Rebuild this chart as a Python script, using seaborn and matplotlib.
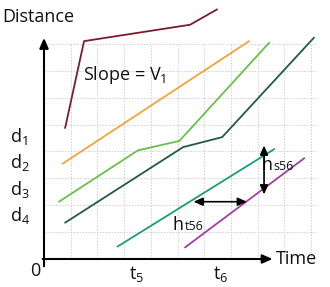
import matplotlib
matplotlib.use("Agg")
import matplotlib.pyplot as plt
import seaborn as sns
import pandas as pd

sns.set_theme(style="white")
plt.rcParams['font.family'] = ['Open Sans', 'DejaVu Sans']
plt.rcParams['mathtext.fontset'] = 'custom'
plt.rcParams['mathtext.rm'] = 'Open Sans'
plt.rcParams['mathtext.it'] = 'Open Sans'

# Series data (grid units)
maroon_x = [0.79, 1.50, 5.47, 6.48]
maroon_y = [4.87, 8.10, 8.71, 9.28]
orange_x = [0.69, 7.68]
orange_y = [3.54, 8.10]
lgreen_x = [0.56, 3.52, 5.07, 8.43]
lgreen_y = [2.13, 4.04, 4.39, 8.04]
dgreen_x = [0.79, 5.21, 6.67, 10.11]
dgreen_y = [1.35, 4.16, 4.53, 8.23]
teal_x = [2.75, 8.63]
teal_y = [0.46, 4.09]
purple_x = [5.28, 9.75]
purple_y = [0.43, 3.75]

series = {
    "maroon": (maroon_x, maroon_y, "#7b1c2c"),
    "orange": (orange_x, orange_y, "#f2a33a"),
    "lgreen": (lgreen_x, lgreen_y, "#6abf4b"),
    "dgreen": (dgreen_x, dgreen_y, "#235b3c"),
    "teal": (teal_x, teal_y, "#1b9e77"),
    "purple": (purple_x, purple_y, "#a23ea6"),
}

d_labels = ["d$_1$", "d$_2$", "d$_3$", "d$_4$"]
d_label_y = [4.55, 3.6, 2.6, 1.6]
t_labels = ["t$_5$", "t$_6$"]
t_label_x = [3.46, 6.6]

fig = plt.figure(figsize=(3.3, 2.87), dpi=100)
ax = fig.add_axes([0, 0, 1, 1])

# grid
for gx in range(1, 11):
    ax.plot([gx, gx], [0, 8.03], color="#d0d0d0", lw=0.7, ls=(0, (1.5, 1.5)), zorder=0)
for gy in range(1, 9):
    ax.plot([0, 10.2], [gy, gy], color="#d0d0d0", lw=0.7, ls=(0, (1.5, 1.5)), zorder=0)

for name, (xs, ys, col) in series.items():
    df = pd.DataFrame({"x": xs, "y": ys})
    sns.lineplot(data=df, x="x", y="y", sort=False, estimator=None, color=col,
                 lw=1.3, ax=ax, zorder=3)

ax.set_xlim(-1.648, 10.71)
ax.set_ylim(-1.041, 9.63)
ax.axis("off")

# axes arrows
ax.annotate("", xy=(0, 8.22), xytext=(0, -0.27),
            arrowprops=dict(arrowstyle="-|>,head_length=0.5,head_width=0.22", color="black", lw=1.5,
                            shrinkA=0, shrinkB=0), zorder=4)
ax.annotate("", xy=(8.56, 0), xytext=(-0.05, 0),
            arrowprops=dict(arrowstyle="-|>,head_length=0.5,head_width=0.22", color="black", lw=1.5,
                            shrinkA=0, shrinkB=0), zorder=4)

# double arrows
ax.annotate("", xy=(8.24, 4.22), xytext=(8.24, 2.4),
            arrowprops=dict(arrowstyle="<|-|>,head_length=0.45,head_width=0.2", color="black", lw=1.2,
                            shrinkA=0, shrinkB=0), zorder=4)
ax.annotate("", xy=(5.6, 2.13), xytext=(7.6, 2.13),
            arrowprops=dict(arrowstyle="<|-|>,head_length=0.45,head_width=0.2", color="black", lw=1.2,
                            shrinkA=0, shrinkB=0), zorder=4)

fs = 13
tc = "#111111"
ax.text(-1.56, 9.0, "Distance", fontsize=fs, va="center", ha="left", color=tc)
ax.text(8.68, 0.0, "Time", fontsize=fs, va="center", ha="left", color=tc)
ax.text(-0.15, -0.45, "0", fontsize=fs, va="center", ha="right", color=tc)
ax.text(1.45, 6.85, "Slope = V$_1$", fontsize=fs, va="center", ha="left", color=tc)
for lab, yy in zip(d_labels, d_label_y):
    ax.text(-1.28, yy, lab, fontsize=fs, va="center", ha="left", color=tc)
for lab, xx in zip(t_labels, t_label_x):
    ax.text(xx, -0.55, lab, fontsize=fs, va="center", ha="center", color=tc)

ax.text(8.14, 3.31, "h", fontsize=fs, va="baseline", ha="left", color=tc)
ax.text(8.6, 3.31, "s56", fontsize=9, va="baseline", ha="left", color=tc)
ax.text(4.8, 1.08, "h", fontsize=fs, va="baseline", ha="left", color=tc)
ax.text(5.28, 1.08, "t56", fontsize=9, va="baseline", ha="left", color=tc)

fig.savefig("out.png", dpi=100)
